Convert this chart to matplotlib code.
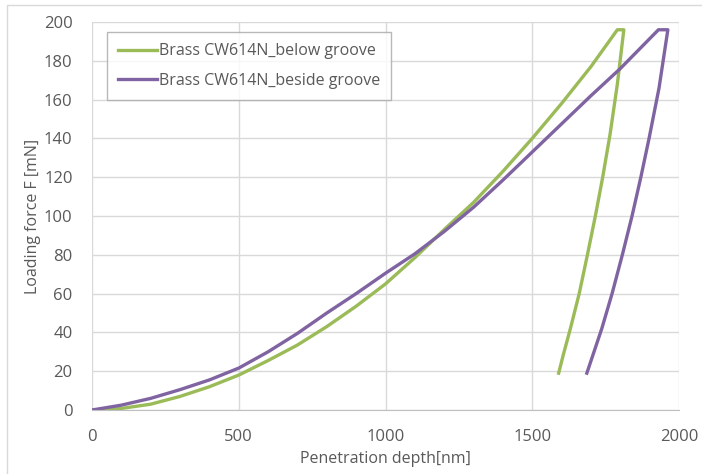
import matplotlib
matplotlib.use('agg')
import matplotlib.pyplot as plt
from matplotlib.patches import Rectangle

# indentation curves: depth [nm], force [mN]
below_depth = [0, 100, 200, 300, 400, 500, 600, 700, 800, 900, 1000, 1100, 1200,
               1300, 1400, 1500, 1600, 1700, 1790, 1812,
               1790, 1765, 1740, 1715, 1688, 1660, 1630, 1605, 1590]
below_force = [0, 0.8, 3, 7, 12, 18, 25.5, 33.5, 43, 53.5, 65, 78.5, 93,
               107, 123, 140, 158, 177, 196, 196,
               168, 142, 120, 100, 80, 60, 42, 28, 19]

beside_depth = [0, 100, 200, 300, 400, 500, 600, 700, 800, 900, 1000, 1100, 1200,
                1300, 1400, 1500, 1600, 1700, 1800, 1930, 1962,
                1932, 1898, 1870, 1840, 1807, 1772, 1737, 1706, 1686]
beside_force = [0, 2.5, 6, 10.5, 15.5, 21.6, 30, 39.5, 50, 60, 70.5, 80.5, 92,
                104.5, 118.5, 133, 147.5, 162, 176, 196, 196,
                166, 140, 120, 100, 80, 60, 42, 28, 19]

labels = ['Brass CW614N_below groove', 'Brass CW614N_beside groove']
colors = ['#9bbb59', '#8064a2']

plt.rcParams['font.family'] = ['Open Sans', 'DejaVu Sans']
txt = '#595959'
grid = '#d9d9d9'

fig = plt.figure(figsize=(7.02, 4.74), dpi=100)
fig.patches.append(Rectangle((7 / 702, -0.1), 1.2, 1 - 5 / 474 + 0.1, transform=fig.transFigure,
                             fill=False, edgecolor=grid, linewidth=1))
ax = fig.add_axes([92 / 702, 1 - 410 / 474, 587 / 702, 388 / 474])

ax.plot(below_depth, below_force, color=colors[0], linewidth=2.4, label=labels[0],
        solid_joinstyle='round')
ax.plot(beside_depth, beside_force, color=colors[1], linewidth=2.4, label=labels[1],
        solid_joinstyle='round')

ax.set_xlim(0, 2000)
ax.set_ylim(0, 200)
ax.set_xticks(range(0, 2001, 500))
ax.set_yticks(range(0, 201, 20))
ax.grid(True, color=grid, linewidth=1)
ax.set_axisbelow(True)
for side in ['top', 'right', 'left']:
    ax.spines[side].set_visible(False)
ax.spines['bottom'].set_color('#bfbfbf')
ax.tick_params(axis='x', length=0, labelsize=12, labelcolor=txt, pad=14)
ax.tick_params(axis='y', length=0, labelsize=12, labelcolor=txt, pad=14)
ax.set_xlabel('Penetration depth[nm]', fontsize=11.5, color=txt, labelpad=4)
ax.set_ylabel('Loading force F [mN]', fontsize=11.5, color=txt, labelpad=2)

leg = ax.legend(loc='upper left', bbox_to_anchor=(15 / 587, 378 / 388), fontsize=11.5,
                handlelength=2.4, handletextpad=0.15, fancybox=False, borderaxespad=0,
                borderpad=0.7, labelspacing=0.85, labelcolor=txt)
leg.get_frame().set_edgecolor('#a6a6a6')
leg.get_frame().set_linewidth(1)

plt.savefig('out.png', dpi=100)
plt.close('all')
